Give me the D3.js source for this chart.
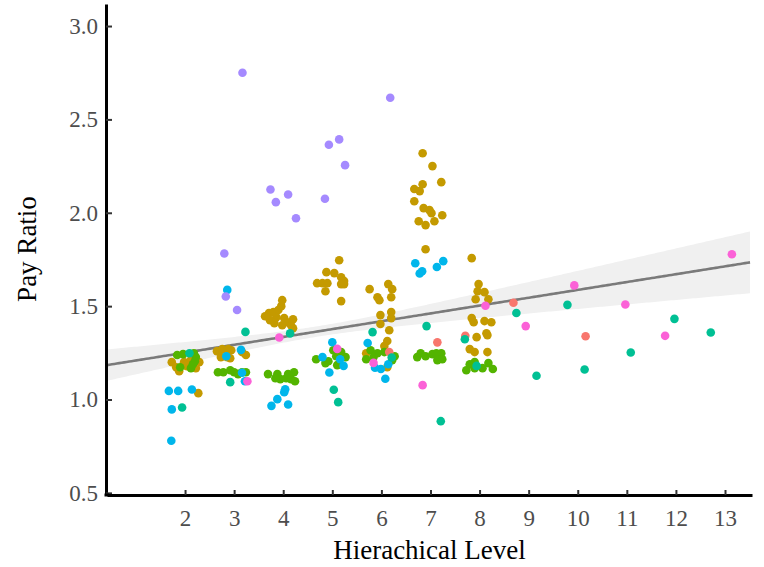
<!DOCTYPE html>
<html>
<head>
<meta charset="utf-8">
<script src="https://cdn.jsdelivr.net/npm/d3@7"></script>
<style>
  html, body { margin: 0; padding: 0; background: #fff; }
  svg { display: block; }
</style>
</head>
<body>
<svg id="chart" width="764" height="567"></svg>
<script>
// ---------------- DATA ----------------
const xTickValues = [2, 3, 4, 5, 6, 7, 8, 9, 10, 11, 12, 13];
const yTickValues = [0.5, 1.0, 1.5, 2.0, 2.5, 3.0];
const xTitle = "Hierachical Level";
const yTitle = "Pay Ratio";

// linear fit
const fitIntercept = 1.167;
const fitSlope = 0.042;
const bandMin = 0.028;     // narrowest half-width of CI band
const bandCenter = 4.7;    // x where band is narrowest
const bandGrowth = 0.0185; // growth of half-width per unit x

// points: [level (jittered), pay ratio]
const olivePts = [
  [1.73,1.200],[1.82,1.173],[1.88,1.152],[2.04,1.179],[2.29,1.200],[2.22,1.168],[1.98,1.200],[2.12,1.211],[2.27,1.034],
  [2.65,1.259],[2.76,1.270],[2.88,1.270],[2.94,1.264],[2.86,1.227],[2.92,1.221],[3.16,1.254],[3.24,1.238],[2.73,1.227],
  [3.98,1.532],[3.96,1.500],[3.71,1.463],[3.80,1.468],[3.86,1.441],[3.73,1.425],[3.82,1.409],[4.02,1.436],[4.08,1.414],
  [4.20,1.430],[4.16,1.398],[3.98,1.398],[3.90,1.479],[4.20,1.382],[3.63,1.446],
  [5.14,1.746],[4.88,1.682],[5.04,1.677],[5.18,1.655],[5.24,1.634],[5.18,1.618],[4.69,1.623],[4.80,1.623],[4.90,1.623],
  [4.86,1.580],[5.18,1.527],[5.24,1.618],
  [5.76,1.591],[5.92,1.548],[5.96,1.532],[6.14,1.618],[6.22,1.591],[6.20,1.548],[5.98,1.452],[6.20,1.468],[6.20,1.436],
  [5.98,1.404],[6.16,1.371],[6.12,1.313],[6.06,1.286],[5.69,1.248],[6.12,1.173],
  [6.84,2.319],[7.04,2.250],[7.22,2.164],[6.84,2.153],[6.67,2.127],[6.78,2.116],[6.67,2.062],[6.86,2.025],[6.98,2.014],
  [7.02,1.998],[7.24,1.987],[6.76,1.955],[6.90,1.934],[7.08,1.955],[6.90,1.805],
  [7.84,1.757],[7.98,1.618],[7.96,1.580],[8.10,1.575],[8.18,1.537],[7.92,1.537],[7.84,1.436],[7.88,1.414],[8.10,1.420],
  [8.24,1.414],[7.94,1.334],[8.14,1.355],[8.16,1.345],[7.80,1.270],[7.90,1.254],[8.16,1.254]
];
const greenPts = [
  [1.84,1.238],[1.96,1.243],[2.18,1.248],[2.22,1.227],[2.20,1.205],[1.90,1.173],[2.12,1.168],[2.16,1.189],
  [2.67,1.146],[2.78,1.146],[2.92,1.157],[3.00,1.146],[3.16,1.146],[3.24,1.146],[3.08,1.136],
  [3.69,1.136],[3.88,1.136],[3.94,1.109],[4.06,1.114],[4.16,1.109],[4.22,1.146],[4.24,1.098],[3.84,1.114],[4.10,1.136],
  [4.67,1.216],[4.86,1.195],[5.02,1.264],[5.10,1.184],[5.27,1.227],[5.18,1.254],[5.08,1.232],[4.92,1.205],
  [5.69,1.216],[5.78,1.264],[5.92,1.248],[6.06,1.254],[6.27,1.232],[6.22,1.211],[5.84,1.227],
  [6.73,1.227],[6.80,1.248],[6.90,1.232],[7.04,1.243],[7.12,1.248],[7.22,1.248],[7.14,1.211],[7.24,1.216],
  [7.73,1.157],[7.80,1.189],[7.90,1.200],[7.90,1.168],[8.18,1.195],[8.27,1.163],[8.06,1.168]
];
const redPts = [
  [6.16,1.254],[7.14,1.306],[7.71,1.341],[8.69,1.518],[10.16,1.339]
];
const bluePts = [
  [1.72,0.779],[1.67,1.046],[1.86,1.046],[2.14,1.054],[1.73,0.947],
  [2.84,1.232],[3.14,1.266],[3.16,1.143],[3.22,1.098],[2.86,1.587],
  [4.04,1.055],[4.02,1.039],[3.88,1.002],[3.76,0.966],[4.10,0.973],
  [5.00,1.307],[4.80,1.227],[5.16,1.216],[5.23,1.180],[4.94,1.145],
  [5.72,1.303],[5.87,1.170],[5.99,1.163],[6.14,1.189],[6.08,1.111],
  [6.69,1.730],[6.78,1.675],[6.83,1.687],[7.13,1.710],[7.26,1.741]
];
const tealPts = [
  [3.23,1.362],[2.09,1.248],[2.92,1.093],[1.94,0.957],[4.14,1.354],
  [5.03,1.052],[5.12,0.986],[5.82,1.361],[6.21,1.225],
  [6.92,1.393],[7.21,0.884],[7.70,1.323],[7.94,1.180],
  [8.75,1.463],[9.79,1.507],[9.16,1.127],[10.14,1.161],[11.08,1.252],[11.97,1.432],[12.71,1.359]
];
const pinkPts = [
  [3.27,1.098],[3.92,1.332],[5.10,1.271],[5.84,1.196],[6.84,1.077],[8.12,1.502],
  [9.93,1.611],[8.94,1.393],[10.97,1.509],[11.78,1.341],[13.14,1.778]
];
const purplePts = [
  [3.17,2.750],[6.18,2.616],[5.14,2.393],[4.93,2.364],[5.26,2.255],[3.74,2.125],[4.10,2.098],
  [3.85,2.057],[4.85,2.075],[4.26,1.971],[2.80,1.782],[2.83,1.552],[3.06,1.479]
];

const seriesList = [
  { pts: olivePts,  color: "#C49A00" },
  { pts: greenPts,  color: "#53B400" },
  { pts: redPts,    color: "#F8766D" },
  { pts: bluePts,   color: "#00B6EB" },
  { pts: tealPts,   color: "#00C094" },
  { pts: pinkPts,   color: "#FB61D7" },
  { pts: purplePts, color: "#A58AFF" }
];

// ---------------- CHART ----------------
const svg = d3.select("#chart");
const mLeft = 107, mRight = 752, mTop = 4, mBottom = 494;

const x = d3.scaleLinear().domain([0.41, 13.55]).range([mLeft, mRight]);
const y = d3.scaleLinear().domain([0.494, 3.118]).range([mBottom, mTop]);

const xs = d3.range(0.41, 13.5501, 0.05);
const half = v => Math.sqrt(bandMin * bandMin + Math.pow(bandGrowth * (v - bandCenter), 2));
const fit = v => fitIntercept + fitSlope * v;

svg.append("path")
  .datum(xs)
  .attr("fill", "#f0f0f0")
  .attr("d", d3.area().x(d => x(d)).y0(d => y(fit(d) - half(d))).y1(d => y(fit(d) + half(d))));

svg.append("path")
  .datum(xs)
  .attr("fill", "none")
  .attr("stroke", "#7a7a7a")
  .attr("stroke-width", 2.6)
  .attr("d", d3.line().x(d => x(d)).y(d => y(fit(d))));

seriesList.forEach(s => {
  svg.append("g").selectAll("circle")
    .data(s.pts)
    .join("circle")
    .attr("cx", d => x(d[0]))
    .attr("cy", d => y(d[1]))
    .attr("r", 4.3)
    .attr("fill", s.color);
});

// axes
const fontFam = "'Liberation Serif', 'Times New Roman', serif";
const yAxis = svg.append("g")
  .attr("transform", `translate(${mLeft - 1},0)`)
  .call(d3.axisLeft(y).tickValues(yTickValues).tickFormat(d3.format(".1f")).tickSizeInner(-6).tickSizeOuter(0).tickPadding(8));
const xAxis = svg.append("g")
  .attr("transform", `translate(0,${mBottom + 1})`)
  .call(d3.axisBottom(x).tickValues(xTickValues).tickFormat(d3.format("d")).tickSizeInner(-5).tickSizeOuter(0).tickPadding(15));

[yAxis, xAxis].forEach(g => {
  g.select(".domain").attr("stroke", "#000").attr("stroke-width", 3);
  g.selectAll(".tick line").attr("stroke", "#333").attr("stroke-width", 2);
  g.selectAll(".tick text").attr("fill", "#4d4d4d").style("font-family", fontFam).style("font-size", "23px");
});
svg.append("line").attr("x1", mLeft - 2.5).attr("x2", mLeft + 2).attr("y1", mBottom + 1).attr("y2", mBottom + 1)
  .attr("stroke", "#000").attr("stroke-width", 3);

svg.append("text")
  .attr("x", (mLeft + mRight) / 2)
  .attr("y", 559)
  .attr("text-anchor", "middle")
  .style("font-family", fontFam)
  .style("font-size", "27px")
  .attr("fill", "#000")
  .text(xTitle);

svg.append("text")
  .attr("transform", `translate(36,${(mTop + mBottom) / 2}) rotate(-90)`)
  .attr("text-anchor", "middle")
  .style("font-family", fontFam)
  .style("font-size", "27px")
  .attr("fill", "#000")
  .text(yTitle);
</script>
</body>
</html>
